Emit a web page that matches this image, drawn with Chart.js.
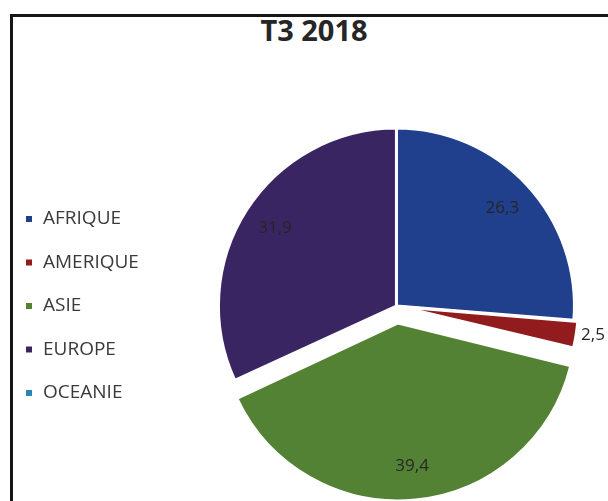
<!DOCTYPE html>
<html>
<head>
<meta charset="utf-8">
<script src="https://cdn.jsdelivr.net/npm/chart.js@4"></script>
<style>
  html, body { margin: 0; padding: 0; background: #fff; overflow: hidden; width: 608px; height: 501px; }
  #frame { position: absolute; left: 10px; top: 14px; width: 700px; height: 600px; border: 3px solid #161616; }
  #title { position: absolute; left: 0; top: 15px; width: 628px; text-align: center; font: bold 29px/29px 'Open Sans', sans-serif; color: #262626; }
  #wrap { position: absolute; left: 0; top: 59px; width: 644px; height: 494px; }
</style>
</head>
<body>
<div id="frame"></div>
<div id="title">T3 2018</div>
<div id="wrap"><canvas id="pie-chart"></canvas></div>
<script>
var regions = ['AFRIQUE', 'AMERIQUE', 'ASIE', 'EUROPE', 'OCEANIE'];
var shares = [26.3, 2.5, 39.4, 31.9, 0];

// Chart.js grows exploded slices a bit; keep every slice at the same radius like Excel does
var evenExplode = {
  id: 'evenExplode',
  beforeDatasetDraw: function(chart, args) {
    args.meta.data.forEach(function(arc) {
      var shift = (arc.options.offset || 0) / 4;
      var fix = 1 - Math.sin(Math.min(Math.PI, arc.circumference || 0));
      arc.fullRadius = arc.outerRadius;
      arc.outerRadius = arc.outerRadius - shift * fix;
    });
  },
  afterDatasetDraw: function(chart, args) {
    args.meta.data.forEach(function(arc) {
      arc.outerRadius = arc.fullRadius;
    });
  }
};

// draws the values on the slices (small slices get theirs outside)
var valueLabels = {
  id: 'valueLabels',
  afterDatasetsDraw: function(chart) {
    var ctx = chart.ctx;
    var meta = chart.getDatasetMeta(0);
    ctx.save();
    ctx.font = '17px "Open Sans"';
    ctx.fillStyle = '#262626';
    ctx.textBaseline = 'middle';
    meta.data.forEach(function(arc, i) {
      var v = shares[i];
      if (!v) return;
      var p = arc.getProps(['x', 'y', 'startAngle', 'endAngle', 'outerRadius'], true);
      var mid = (p.startAngle + p.endAngle) / 2;
      var shift = (arc.options.offset || 0) / 4;
      var text = v.toFixed(1).replace('.', ',');
      var r;
      if (v < 5) {
        r = p.outerRadius + shift + 5;
        ctx.textAlign = 'left';
      } else {
        r = shift + p.outerRadius * 0.81;
        ctx.textAlign = 'center';
      }
      ctx.fillText(text, p.x + Math.cos(mid) * r, p.y + Math.sin(mid) * r);
    });
    ctx.restore();
  }
};

new Chart(document.getElementById('pie-chart'), {
  type: 'pie',
  data: {
    labels: regions,
    datasets: [{
      data: shares,
      backgroundColor: ['#203F8C', '#921B1D', '#548235', '#3A2563', '#2A86B0'],
      borderColor: '#ffffff',
      borderWidth: 3,
      offset: [0, 16, 68, 0, 0]
    }]
  },
  options: {
    responsive: true,
    maintainAspectRatio: false,
    animation: false,
    radius: 178,
    plugins: {
      title: { display: false },
      legend: {
        position: 'left',
        labels: {
          boxWidth: 9,
          boxHeight: 9,
          padding: 24.5,
          color: '#3a3a3a',
          font: { family: 'Open Sans', size: 19 }
        }
      },
      tooltip: { enabled: false }
    }
  },
  plugins: [evenExplode, valueLabels]
});
</script>
</body>
</html>
